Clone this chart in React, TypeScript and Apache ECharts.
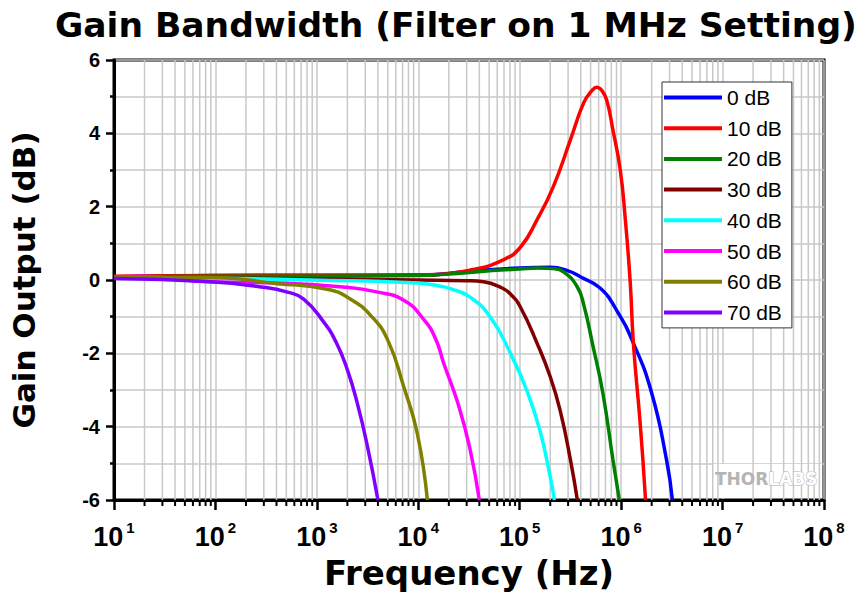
import React, { useEffect, useRef } from "react";
import * as echarts from "echarts";

const seriesNames = ["0 dB", "10 dB", "20 dB", "30 dB", "40 dB", "50 dB", "60 dB", "70 dB"];
const seriesColors = ["#0000ff", "#ff0000", "#008000", "#800000", "#00ffff", "#ff00ff", "#808000", "#8000ff"];

const gain0dB = [[10, 0.08], [100, 0.12], [1000, 0.13], [1e4, 0.13], [3.2e4, 0.24], [1e5, 0.33], [2e5, 0.35], [3e5, 0.25], [4e5, 0.08], [6.2e5, -0.22], [9e5, -0.82], [1.32e6, -1.72], [2e6, -3.08], [2.8e6, -4.9], [3.2e6, -6]];
const gain10dB = [[10, 0.1], [100, 0.12], [1000, 0.12], [1e4, 0.14], [3.24e4, 0.27], [6.9e4, 0.55], [1.02e5, 0.9], [1.48e5, 1.64], [2.14e5, 2.54], [3.16e5, 3.82], [4.27e5, 4.83], [5.2e5, 5.18], [5.75e5, 5.26], [6.4e5, 5.18], [7.2e5, 4.91], [8.3e5, 4.09], [9.8e5, 3.0], [1.1e6, 1.64], [1.23e6, -0.08], [1.32e6, -1.72], [1.55e6, -4.0], [1.74e6, -6]];
const gain20dB = [[10, 0.08], [100, 0.1], [1000, 0.1], [1e4, 0.12], [3e4, 0.2], [6.5e4, 0.27], [1e5, 0.3], [1.5e5, 0.33], [2.1e5, 0.31], [2.7e5, 0.22], [3.7e5, -0.19], [4.3e5, -0.7], [5.2e5, -1.72], [6.6e5, -3.08], [8.3e5, -4.9], [9.6e5, -6]];
const gain30dB = [[10, 0.05], [100, 0.05], [1000, 0.03], [1e4, 0.0], [3e4, -0.02], [4.4e4, -0.05], [6.5e4, -0.2], [8.1e4, -0.38], [1.02e5, -0.75], [1.48e5, -1.72], [2e5, -2.64], [2.5e5, -3.55], [3.16e5, -4.9], [3.7e5, -6]];
const gain40dB = [[10, 0.06], [100, 0.05], [870, 0.0], [9.8e3, -0.08], [1.66e4, -0.17], [2.1e4, -0.24], [3.2e4, -0.46], [5.1e4, -1.0], [8.1e4, -2.0], [1.17e5, -3.0], [1.58e5, -4.1], [2e5, -5.37], [2.2e5, -6]];
const gain50dB = [[10, 0.08], [20, 0.1], [89, -0.05], [407, -0.08], [1.82e3, -0.19], [4e3, -0.33], [7.2e3, -0.55], [1.12e4, -1.06], [1.48e4, -1.6], [1.78e4, -2.27], [2.45e4, -3.35], [3.2e4, -4.55], [4.0e4, -6]];
const gain60dB = [[10, 0.06], [89, 0.07], [407, -0.1], [1.26e3, -0.25], [2.14e3, -0.52], [3.4e3, -0.97], [5e3, -1.64], [7.2e3, -2.92], [9.8e3, -4.2], [1.23e4, -6]];
const gain70dB = [[10, 0.04], [89, -0.05], [282, -0.19], [513, -0.33], [741, -0.52], [1.17e3, -1.15], [1.55e3, -1.7], [2e3, -2.45], [2.5e3, -3.35], [3.16e3, -4.55], [4e3, -6]];
const seriesData = [gain0dB, gain10dB, gain20dB, gain30dB, gain40dB, gain50dB, gain60dB, gain70dB];

const minorDecades = [10, 100, 1000, 1e4, 1e5, 1e6, 1e7];
const minorMultipliers = [2, 3, 4, 5, 6, 7, 8, 9];

export default function App() {
  const ref = useRef<HTMLDivElement>(null);
  useEffect(() => {
    if (!ref.current) return;
    const chart = echarts.init(ref.current, null, { renderer: "svg" });
    const minorTicks: number[][] = [];
    minorDecades.forEach((d) => minorMultipliers.forEach((m) => minorTicks.push([m * d, 0])));
    const gridCol = "#c8c8c8";
    const option: any = {
      animation: false,
      backgroundColor: "#fff",
      title: {
        text: "Gain Bandwidth (Filter on 1 MHz Setting)",
        left: 50,
        top: 2,
        textStyle: { fontFamily: "DejaVu Sans", fontWeight: "bold", fontSize: 34.5, color: "#000" },
      },
      grid: { left: 113, top: 60, right: 44, bottom: 99, show: true, borderColor: "#000", borderWidth: 3, backgroundColor: "transparent" },
      legend: {
        orient: "vertical",
        left: 662,
        top: 82,
        data: seriesNames,
        icon: "rect",
        itemWidth: 58,
        itemHeight: 4,
        itemGap: 9.7,
        padding: [5, 10, 5, 2],
        borderColor: "#333",
        borderWidth: 1,
        backgroundColor: "#fff",
        textStyle: { fontFamily: "Liberation Sans", fontSize: 21, color: "#000" },
      },
      xAxis: {
        type: "log",
        logBase: 10,
        min: 10,
        max: 1e8,
        interval: 1,
        name: "Frequency (Hz)",
        nameLocation: "middle",
        nameGap: 56,
        nameTextStyle: { fontFamily: "DejaVu Sans", fontWeight: "bold", fontSize: 34, color: "#000" },
        axisLine: { show: true, onZero: false, lineStyle: { color: "#000", width: 3 } },
        axisTick: { show: true, inside: false, length: 10, lineStyle: { color: "#000", width: 2.5 } },
        splitLine: { show: true, lineStyle: { color: gridCol, width: 1.5 } },
        axisLabel: {
          margin: 20,
          formatter: (v: number) => "{b|10}{s|" + Math.round(Math.log10(v)) + "}",
          rich: {
            b: { fontFamily: "Liberation Sans", fontWeight: "bold", fontSize: 27, color: "#000", lineHeight: 30, verticalAlign: "bottom" },
            s: { fontFamily: "Liberation Sans", fontWeight: "bold", fontSize: 15, color: "#000", lineHeight: 30, verticalAlign: "top", padding: [0, 0, 0, 3] },
          },
        },
      },
      yAxis: {
        type: "value",
        min: -6,
        max: 6,
        interval: 2,
        name: "Gain Output (dB)",
        nameLocation: "middle",
        nameGap: 75,
        nameTextStyle: { fontFamily: "DejaVu Sans", fontWeight: "bold", fontSize: 31, color: "#000" },
        axisLine: { show: true, lineStyle: { color: "#000", width: 3 } },
        axisTick: { show: true, length: 8, lineStyle: { color: "#000", width: 2.5 } },
        minorTick: { show: true, splitNumber: 2, length: 4, lineStyle: { color: "#000", width: 2.5 } },
        splitLine: { show: true, lineStyle: { color: gridCol, width: 1.5 } },
        minorSplitLine: { show: true, lineStyle: { color: gridCol, width: 1.5 } },
        axisLabel: { margin: 14, fontFamily: "Liberation Sans", fontWeight: "bold", fontSize: 20, color: "#000" },
      },
      graphic: [
        { type: "rect", shape: { x: 712, y: 464, width: 110, height: 34 }, style: { fill: "#fff" }, z: 1 },
        {
          type: "text",
          x: 715,
          y: 470,
          z: 2,
          style: {
            text: "{a|THOR}{c|LABS}",
            rich: {
              a: { fontFamily: "DejaVu Sans", fontWeight: "bold", fontSize: 17, fill: "#b4b4b4" },
              c: { fontFamily: "DejaVu Sans", fontWeight: "bold", fontSize: 17, fill: "#fff", stroke: "#b4b4b4", lineWidth: 1 },
            },
          },
        },
      ],
      series: [
        {
          type: "custom",
          name: "minor",
          silent: true,
          clip: false,
          z: 1,
          data: minorTicks,
          encode: { x: 0, y: 1 },
          renderItem: (params: any, api: any) => {
            const x = api.coord([api.value(0), 0])[0];
            const top = params.coordSys.y;
            const bottom = top + params.coordSys.height;
            return {
              type: "group",
              children: [
                { type: "line", shape: { x1: x, y1: top, x2: x, y2: bottom }, style: { stroke: gridCol, lineWidth: 1.5 } },
                { type: "line", shape: { x1: x, y1: bottom, x2: x, y2: bottom + 6 }, style: { stroke: "#000", lineWidth: 2 } },
              ],
            };
          },
        },
        ...seriesNames.map((n, i) => ({
          type: "line",
          name: n,
          data: seriesData[i],
          showSymbol: false,
          smooth: 0.5,
          color: seriesColors[i],
          lineStyle: { width: 3.5, color: seriesColors[i] },
          z: 3,
        })),
      ],
    };
    chart.setOption(option);
    return () => chart.dispose();
  }, []);
  return <div ref={ref} style={{ position: "fixed", left: 0, top: 0, width: 868, height: 599 }} />;
}
